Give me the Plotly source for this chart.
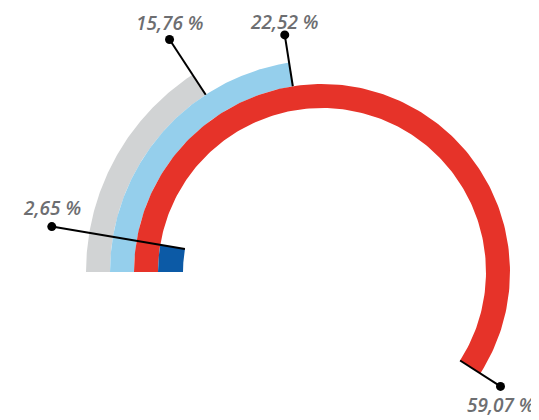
import numpy as np
import plotly.graph_objects as go

# ---- data ----
labels = ["15,76 %", "22,52 %", "59,07 %", "2,65 %"]
values = [15.76, 22.52, 59.07, 2.65]
colors = ["#d1d3d4", "#95cfec", "#e63329", "#0c5aa6"]

# ---- layout / geometry constants (pixels) ----
PAGE_W, PAGE_H = 539, 420
OFF = 8                                 # default body margin of the page
W, H = PAGE_W - OFF, PAGE_H - OFF
CX, CY = 322 - OFF, 272 - OFF           # ring centre in figure pixels
ring_inner = [212, 188, 164, 139]
ring_outer = [236, 212, 188, 164]
leader_end = [278, 240, 212, 274]
label_shift = [17, 13, -19, 19]         # vertical offset of label from dot
DEG_PER_PCT = 3.6

fig = go.Figure()

for v, col, ri, ro in zip(values, colors, ring_inner, ring_outer):
    t_end = 180 - v * DEG_PER_PCT
    t = np.radians(np.linspace(180, t_end, 200))
    xs = np.concatenate([ro * np.cos(t), ri * np.cos(t[::-1])])
    ys = np.concatenate([ro * np.sin(t), ri * np.sin(t[::-1])])
    fig.add_trace(go.Scatter(x=xs, y=ys, fill="toself", fillcolor=col,
                             mode="lines", line=dict(width=0, color=col),
                             hoverinfo="skip", showlegend=False))

for v, lab, ri, le, sh in zip(values, labels, ring_inner, leader_end, label_shift):
    a = np.radians(180 - v * DEG_PER_PCT)
    x0, y0 = ri * np.cos(a), ri * np.sin(a)
    x1, y1 = le * np.cos(a), le * np.sin(a)
    fig.add_trace(go.Scatter(x=[x0, x1], y=[y0, y1], mode="lines",
                             line=dict(color="black", width=2),
                             hoverinfo="skip", showlegend=False))
    fig.add_trace(go.Scatter(x=[x1], y=[y1], mode="markers",
                             marker=dict(color="black", size=9),
                             hoverinfo="skip", showlegend=False))
    fig.add_annotation(x=x1, y=y1, text=lab, showarrow=False,
                       xanchor="center", yanchor="middle", yshift=sh,
                       font=dict(family="Open Sans", size=19, color="#6d6e71",
                                 style="italic", weight=600))

fig.update_xaxes(range=[-CX, W - CX], visible=False, fixedrange=True)
fig.update_yaxes(range=[CY - H, CY], visible=False, fixedrange=True)
fig.update_layout(width=W, height=H, margin=dict(l=0, r=0, t=0, b=0),
                  plot_bgcolor="white", paper_bgcolor="white")

fig.write_html("out.html")
